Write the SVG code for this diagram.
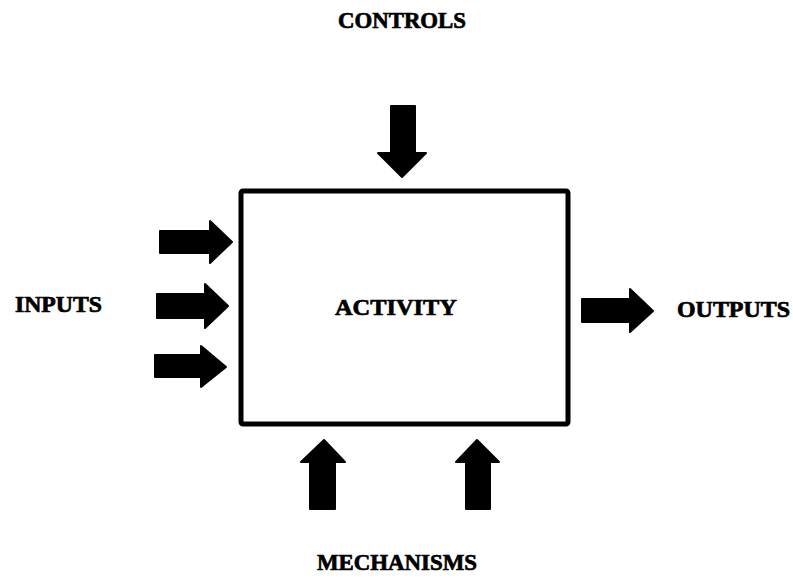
<svg xmlns="http://www.w3.org/2000/svg" width="793" height="579" viewBox="0 0 793 579">
  <style>
    .lbl { font-family: "Liberation Serif", "DejaVu Serif", serif; font-weight: bold; font-size: 23px; fill: #000; stroke: #000; stroke-width: 0.7; text-anchor: middle; }
    .arrow { fill: #000; stroke: #000; stroke-width: 2; stroke-linejoin: round; }
    .box { fill: #fff; stroke: #000; stroke-width: 5; }
  </style>
  <rect width="793" height="579" fill="#fff"/>
  <g id="activity">
    <rect class="box" x="241" y="191" width="327" height="233" rx="2"/>
    <text class="lbl" x="396" y="315" textLength="122" lengthAdjust="spacingAndGlyphs">ACTIVITY</text>
  </g>
  <g id="controls">
    <text class="lbl" x="402" y="28" textLength="128" lengthAdjust="spacingAndGlyphs">CONTROLS</text>
  </g>
  <g id="inputs">
    <text class="lbl" x="58.5" y="312" textLength="87" lengthAdjust="spacingAndGlyphs">INPUTS</text>
  </g>
  <g id="outputs">
    <text class="lbl" x="733.5" y="317" textLength="113" lengthAdjust="spacingAndGlyphs">OUTPUTS</text>
  </g>
  <g id="mechanisms">
    <text class="lbl" x="397" y="570" textLength="160" lengthAdjust="spacingAndGlyphs">MECHANISMS</text>
  </g>
  <g id="connectors">
    <polygon class="arrow" points="391,106 415,106 415,153 426,153 402,177 378,153 391,153"/>
    <polygon class="arrow" points="160,231 210,231 210,221 232,242 210,263 210,253 160,253"/>
    <polygon class="arrow" points="157,294 205,294 205,284 228,306 205,328 205,318 157,318"/>
    <polygon class="arrow" points="155,355 201,355 201,346 226,367 201,387 201,377 155,377"/>
    <polygon class="arrow" points="582,299 630,299 630,289 653,311 630,332 630,322 582,322"/>
    <polygon class="arrow" points="324,440 345,462 335,462 335,509 310,509 310,462 301,462"/>
    <polygon class="arrow" points="477,440 499,462 490,462 490,509 466,509 466,462 456,462"/>
  </g>
</svg>
